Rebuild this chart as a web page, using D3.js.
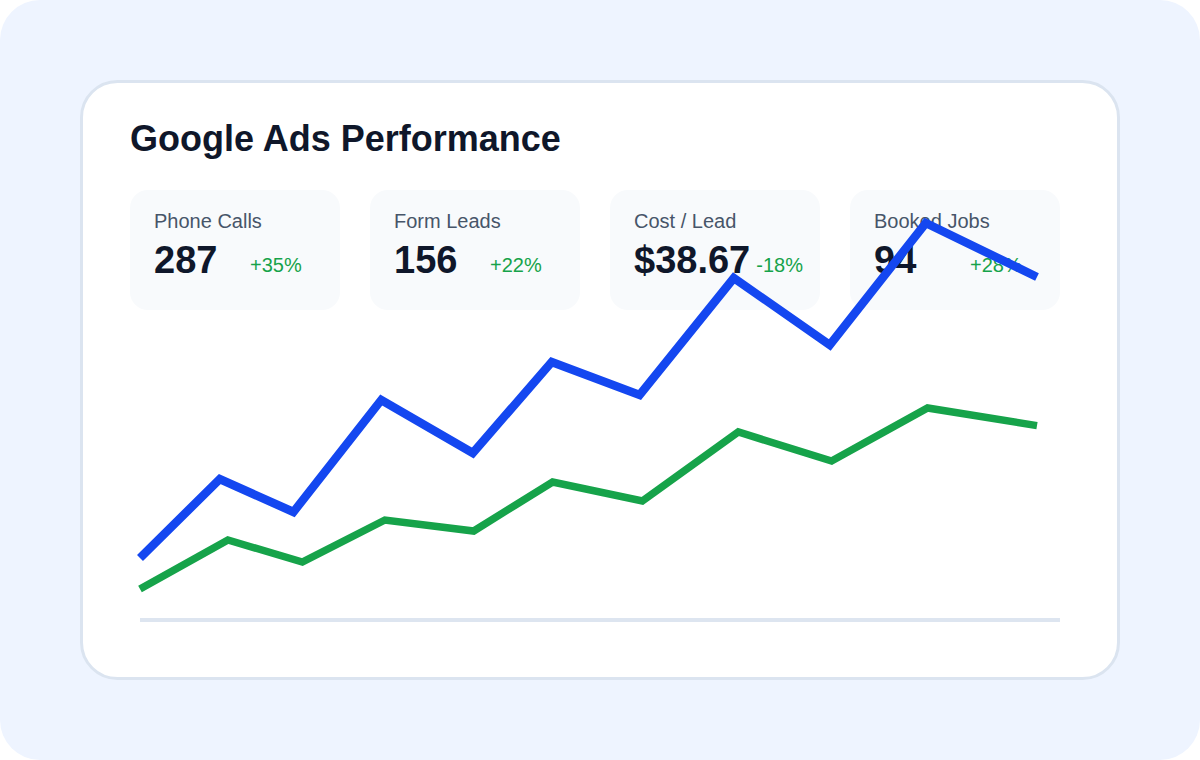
<!DOCTYPE html>
<html>
<head>
<meta charset="utf-8">
<script src="https://cdn.jsdelivr.net/npm/d3@7"></script>
<style>
  html, body { margin: 0; padding: 0; background: #ffffff; }
  svg { display: block; font-family: "Liberation Sans", Arial, sans-serif; }
</style>
</head>
<body>
<div id="chart"></div>
<script>
// KPI tiles
var kpiLabels = ["Phone Calls", "Form Leads", "Cost / Lead", "Booked Jobs"];
var kpiValues = ["287", "156", "$38.67", "94"];
var kpiDeltas = ["+35%", "+22%", "-18%", "+28%"];

// series, x is in week units (0..10), y is an index 0..100
var clicksX = [0, 0.89, 1.71, 2.69, 3.71, 4.59, 5.57, 6.62, 7.69, 8.76, 10];
var clicksY = [15.5, 35.25, 27, 55, 41.75, 64.5, 56.25, 85.5, 68.75, 99.25, 85.75];
var leadsX = [0, 0.98, 1.81, 2.73, 3.72, 4.6, 5.6, 6.67, 7.71, 8.78, 10];
var leadsY = [7.75, 20, 14.5, 25, 22.25, 34.5, 29.75, 47, 39.75, 53, 48.6];

const WIDTH = 1200;
const HEIGHT = 760;

var svg = d3.select("#chart")
  .append("svg")
  .attr("width", WIDTH)
  .attr("height", HEIGHT);

// page background + card
svg.append("rect")
  .attr("width", WIDTH).attr("height", HEIGHT)
  .attr("rx", 40)
  .attr("fill", "#eef4ff");

svg.append("rect")
  .attr("x", 81.5).attr("y", 81.5)
  .attr("width", 1037).attr("height", 597)
  .attr("rx", 36)
  .attr("fill", "#ffffff")
  .attr("stroke", "#dbe4f0")
  .attr("stroke-width", 3);

svg.append("text")
  .attr("x", 130).attr("y", 151)
  .attr("font-size", 36)
  .attr("font-weight", "bold")
  .attr("fill", "#0f172a")
  .text("Google Ads Performance");

// tiles
var tileX = d3.scaleBand()
  .domain(kpiLabels)
  .range([130, 1060])
  .paddingInner(30 / 240);

var tiles = svg.selectAll(".tile")
  .data(kpiLabels)
  .enter().append("g")
  .attr("class", "tile")
  .attr("transform", function (d) { return "translate(" + tileX(d) + ",190)"; });

tiles.append("rect")
  .attr("width", tileX.bandwidth())
  .attr("height", 120)
  .attr("rx", 18)
  .attr("fill", "#f8fafc");

tiles.append("text")
  .attr("x", 24).attr("y", 38)
  .attr("font-size", 20)
  .attr("fill", "#475569")
  .text(function (d) { return d; });

tiles.append("text")
  .attr("class", "kpi-value")
  .attr("x", 24).attr("y", 83)
  .attr("font-size", 38)
  .attr("font-weight", "bold")
  .attr("fill", "#0f172a")
  .text(function (d, i) { return kpiValues[i]; });

tiles.each(function (d, i) {
  var g = d3.select(this);
  var w = g.select(".kpi-value").node().getComputedTextLength();
  g.append("text")
    .attr("x", Math.max(120, 24 + w + 6))
    .attr("y", 82)
    .attr("font-size", 20)
    .attr("fill", "#16a34a")
    .text(kpiDeltas[i]);
});

// line chart
var x = d3.scaleLinear().domain([0, 10]).range([140, 1037]);
var y = d3.scaleLinear().domain([0, 100]).range([620, 220]);

svg.append("line")
  .attr("x1", 140).attr("x2", 1060)
  .attr("y1", y(0)).attr("y2", y(0))
  .attr("stroke", "#dde5f0")
  .attr("stroke-width", 4);

var line = d3.line()
  .x(function (d) { return x(d[0]); })
  .y(function (d) { return y(d[1]); });

svg.append("path")
  .attr("d", line(d3.zip(leadsX, leadsY)))
  .attr("fill", "none")
  .attr("stroke", "#16a34a")
  .attr("stroke-width", 7.5)
  .attr("stroke-linejoin", "miter");

svg.append("path")
  .attr("d", line(d3.zip(clicksX, clicksY)))
  .attr("fill", "none")
  .attr("stroke", "#1447f0")
  .attr("stroke-width", 8.5)
  .attr("stroke-linejoin", "miter");
</script>
</body>
</html>
